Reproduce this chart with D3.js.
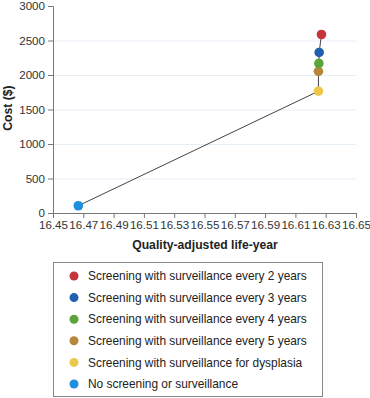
<!DOCTYPE html>
<html>
<head>
<meta charset="utf-8">
<script src="https://cdn.jsdelivr.net/npm/d3@7"></script>
<style>
  body { margin: 0; background: #fff; }
  svg { display: block; font-family: "Liberation Sans", Arial, sans-serif; }
  .axis path, .axis line { stroke: #777; }
  .axis text { fill: #333; font-size: 11.6px; }
  .grid line { stroke: #e6eef6; }
  .grid path { display: none; }
  .label { font-weight: bold; font-size: 12.2px; fill: #222; }
</style>
</head>
<body>
<div class="viz"></div>
<script>
// strategies, in path order (cheapest first)
var strategies = [
  'No screening or surveillance',
  'Screening with surveillance for dysplasia',
  'Screening with surveillance every 5 years',
  'Screening with surveillance every 4 years',
  'Screening with surveillance every 3 years',
  'Screening with surveillance every 2 years'
];
var qaly = [16.4667, 16.6252, 16.6252, 16.6255, 16.6257, 16.6272];
var cost = [105, 1765, 2053, 2168, 2327, 2587];
var colors = ['#1d8fdc', '#ecc84a', '#b5873b', '#5ba43c', '#1f5fae', '#c8343b'];

var xTicks = [16.45, 16.47, 16.49, 16.51, 16.53, 16.55, 16.57, 16.59, 16.61, 16.63, 16.65];
var yTicks = [0, 500, 1000, 1500, 2000, 2500, 3000];
var legendOrder = [5, 4, 3, 2, 1, 0];

var margin = {top: 6, right: 14, bottom: 185, left: 53};
var W = 370, H = 398;
var width = W - margin.left - margin.right;
var height = H - margin.top - margin.bottom;

var svg = d3.select('.viz')
  .append('svg')
  .attr('width', W)
  .attr('height', H);

var g = svg.append('g')
  .attr('transform', 'translate(' + margin.left + ',' + margin.top + ')');

var xScale = d3.scaleLinear().domain([16.45, 16.65]).range([0, width]);
var yScale = d3.scaleLinear().domain([0, 3000]).range([height, 0]);

// gridlines
g.append('g')
  .attr('class', 'grid')
  .call(d3.axisLeft(yScale).tickValues(yTicks.slice(1, 6)).tickSize(-width).tickFormat(''));

// axes
g.append('g')
  .attr('class', 'x axis')
  .attr('transform', 'translate(0,' + height + ')')
  .call(d3.axisBottom(xScale).tickValues(xTicks).tickSizeOuter(0).tickSize(5).tickPadding(3).tickFormat(d3.format('.2f')));

g.append('g')
  .attr('class', 'y axis')
  .call(d3.axisLeft(yScale).tickValues(yTicks).tickSizeOuter(0).tickSize(5).tickPadding(3).tickFormat(d3.format('d')));

// connecting line
var pts = qaly.map(function(q, i) { return {x: q, y: cost[i], c: colors[i]}; });

g.append('path')
  .datum(pts)
  .attr('fill', 'none')
  .attr('stroke', '#444')
  .attr('stroke-width', 1)
  .attr('d', d3.line().x(function(d) { return xScale(d.x); }).y(function(d) { return yScale(d.y); }));

g.selectAll('.point')
  .data(pts)
  .enter().append('circle')
  .attr('class', 'point')
  .attr('cx', function(d) { return xScale(d.x); })
  .attr('cy', function(d) { return yScale(d.y); })
  .attr('r', 4.8)
  .attr('fill', function(d) { return d.c; });

// axis labels
svg.append('text')
  .attr('class', 'label')
  .attr('x', 205)
  .attr('y', 249)
  .attr('text-anchor', 'middle')
  .text('Quality-adjusted life-year');

svg.append('text')
  .attr('class', 'label')
  .attr('transform', 'translate(11.5,108) rotate(-90)')
  .attr('text-anchor', 'middle')
  .text('Cost ($)');

// legend
var legend = svg.append('g').attr('transform', 'translate(53,262)');
legend.append('rect')
  .attr('x', 0.5).attr('y', 0.5)
  .attr('width', 269).attr('height', 134)
  .attr('fill', '#fff')
  .attr('stroke', '#888');

var items = legend.selectAll('.item')
  .data(legendOrder)
  .enter().append('g')
  .attr('class', 'item')
  .attr('transform', function(d, i) { return 'translate(0,' + (14 + i * 21.6) + ')'; });

items.append('circle')
  .attr('cx', 21).attr('cy', 0).attr('r', 4.5)
  .attr('fill', function(d) { return colors[d]; });

items.append('text')
  .attr('x', 35).attr('y', 0).attr('dy', '0.35em')
  .style('font-size', '11.9px')
  .style('fill', '#222')
  .text(function(d) { return strategies[d]; });
</script>
</body>
</html>
